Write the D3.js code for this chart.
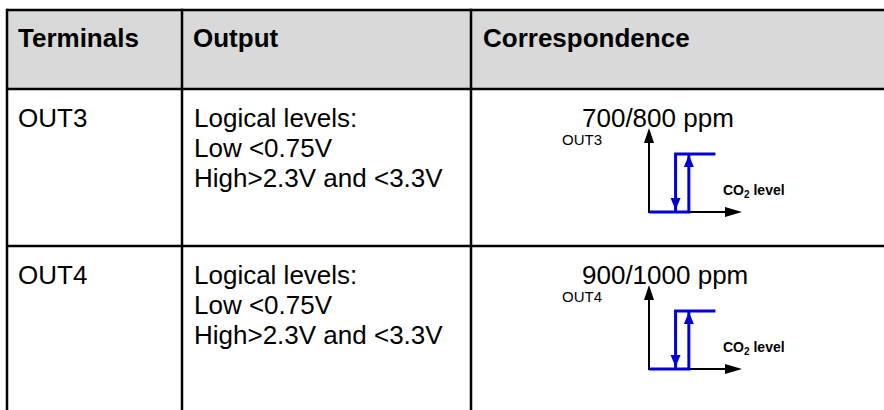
<!DOCTYPE html>
<html>
<head>
<meta charset="utf-8">
<script src="https://cdn.jsdelivr.net/npm/d3@7"></script>
<style>
  html, body { margin: 0; padding: 0; background: #fff; }
  svg { display: block; font-family: "Liberation Sans", Arial, sans-serif; }
</style>
</head>
<body>
<svg id="chart" width="884" height="410"></svg>
<script>
/* Table content */
var columns = ["Terminals", "Output", "Correspondence"];
var terminals = ["OUT3", "OUT4"];
var outputLines = ["Logical levels:", "Low <0.75V", "High>2.3V and <3.3V"];

/* Switching thresholds (ppm): output goes low at the first, high at the second */
var thresholdLow = [700, 900];
var thresholdHigh = [800, 1000];
var levels = ["low", "high"];

var blue = "#0000dd";

var svg = d3.select("#chart");

/* Table layout */
var colX = [7, 182, 471, 892];
var headerTop = 10, headerBottom = 89, rowHeight = 157;

// header background
svg.append("rect")
	.attr("x", colX[0])
	.attr("y", headerTop)
	.attr("width", colX[3] - colX[0])
	.attr("height", headerBottom - headerTop)
	.attr("fill", "#d9d9d9");

// header text
svg.selectAll(".head")
	.data(columns)
	.enter().append("text")
	.attr("class", "head")
	.attr("x", function(d, i) { return colX[i] + (i == 2 ? 12 : 11); })
	.attr("y", headerTop + 37)
	.attr("font-size", 26)
	.attr("font-weight", "bold")
	.text(function(d) { return d; });

var rows = terminals.map(function(t, i) {
	return { name: t, lo: thresholdLow[i], hi: thresholdHigh[i], top: headerBottom + i * rowHeight };
});

var row = svg.selectAll(".row")
	.data(rows)
	.enter().append("g")
	.attr("class", "row")
	.attr("transform", function(d) { return "translate(0," + d.top + ")"; });

// terminal name
row.append("text")
	.attr("x", colX[0] + 11)
	.attr("y", 38)
	.attr("font-size", 26)
	.text(function(d) { return d.name; });

// output description
row.each(function() {
	var t = d3.select(this).append("text")
		.attr("font-size", 26);
	outputLines.forEach(function(line, k) {
		t.append("tspan")
			.attr("x", colX[1] + 12)
			.attr("y", 38 + k * 30)
			.text(line);
	});
});

// threshold caption
row.append("text")
	.attr("x", 582)
	.attr("y", 38)
	.attr("font-size", 26)
	.text(function(d) { return d.lo + "/" + d.hi + " ppm"; });

/* Hysteresis diagrams */
row.each(function(d) {
	var g = d3.select(this);
	var step = d.hi - d.lo;
	var x = d3.scaleLinear()
		.domain([d.lo - 2 * step, d.hi + 4 * step])
		.range([649, 742]);
	var y = d3.scalePoint()
		.domain(levels)
		.range([123, 65]);
	var x0 = x.range()[0], xEnd = x.range()[1];
	var yLow = y("low"), yHigh = y("high"), yTop = 39;

	// output label
	g.append("text")
		.attr("x", 562)
		.attr("y", 56)
		.attr("font-size", 15)
		.text(d.name);

	// axes
	g.append("line")
		.attr("x1", x0).attr("y1", yLow + 1)
		.attr("x2", x0).attr("y2", yTop + 10)
		.attr("stroke", "#000").attr("stroke-width", 2);
	g.append("path")
		.attr("d", "M" + x0 + "," + yTop + "L" + (x0 - 5) + "," + (yTop + 15) + "L" + (x0 + 5) + "," + (yTop + 15) + "Z")
		.attr("fill", "#000");
	g.append("line")
		.attr("x1", x0).attr("y1", yLow)
		.attr("x2", xEnd - 10).attr("y2", yLow)
		.attr("stroke", "#000").attr("stroke-width", 2);
	g.append("path")
		.attr("d", "M" + xEnd + "," + yLow + "L" + (xEnd - 17) + "," + (yLow - 5) + "L" + (xEnd - 17) + "," + (yLow + 5) + "Z")
		.attr("fill", "#000");

	// axis caption: CO2 level
	var cap = g.append("text")
		.attr("x", 723)
		.attr("y", yLow - 17)
		.attr("font-size", 14)
		.attr("font-weight", "bold");
	cap.append("tspan").text("CO");
	cap.append("tspan").attr("font-size", 10).attr("dy", 3).text("2");
	cap.append("tspan").attr("dy", -3).text(" level");

	// hysteresis loop
	var xl = x(d.lo), xh = x(d.hi), xr = x(d.hi + 2 * step);
	g.append("path")
		.attr("d", "M" + x0 + "," + yLow + "H" + xh + "V" + yHigh + "M" + xr + "," + yHigh + "H" + xl + "V" + yLow)
		.attr("fill", "none")
		.attr("stroke", blue)
		.attr("stroke-width", 3);

	// falling arrow at low threshold
	g.append("path")
		.attr("d", "M" + xl + "," + (yLow - 2) + "L" + (xl - 5) + "," + (yLow - 14) + "L" + (xl + 5) + "," + (yLow - 14) + "Z")
		.attr("fill", blue);
	// rising arrow at high threshold
	g.append("path")
		.attr("d", "M" + xh + "," + (yHigh + 1) + "L" + (xh - 5) + "," + (yHigh + 13) + "L" + (xh + 5) + "," + (yHigh + 13) + "Z")
		.attr("fill", blue);
});

/* Grid lines */
var bw = 2.5;
svg.append("line")
	.attr("x1", colX[0]).attr("y1", headerTop).attr("x2", colX[3]).attr("y2", headerTop)
	.attr("stroke", "#000").attr("stroke-width", bw);
[headerBottom, headerBottom + rowHeight].forEach(function(yy) {
	svg.append("line")
		.attr("x1", colX[0]).attr("y1", yy).attr("x2", colX[3]).attr("y2", yy)
		.attr("stroke", "#000").attr("stroke-width", bw);
});
colX.slice(0, 3).forEach(function(xx) {
	svg.append("line")
		.attr("x1", xx).attr("y1", headerTop - bw / 2).attr("x2", xx).attr("y2", 420)
		.attr("stroke", "#000").attr("stroke-width", bw);
});
</script>
</body>
</html>
